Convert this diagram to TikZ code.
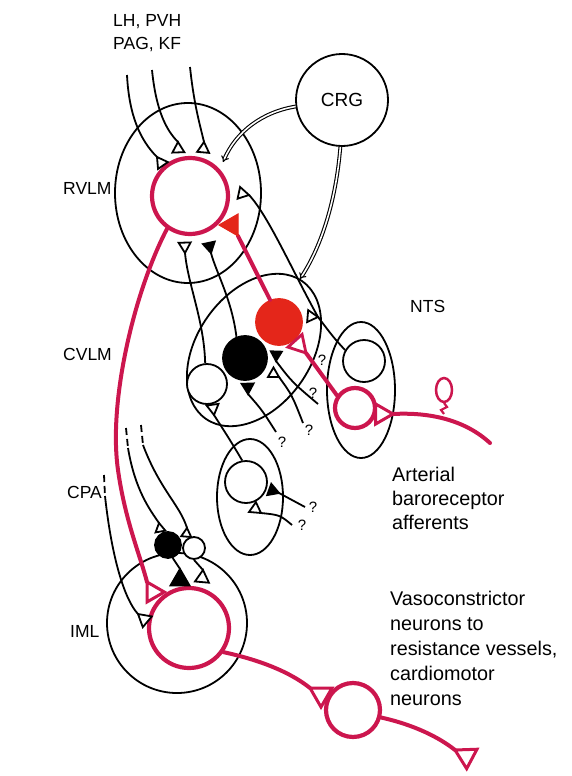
\documentclass[tikz,border=0pt]{standalone}
\usepackage{fontspec}
\setmainfont{Liberation Sans}
\usetikzlibrary{arrows.meta, positioning}

\definecolor{nred}{RGB}{204,22,78}
\definecolor{fred}{RGB}{228,38,26}

\tikzset{
  ax/.style={line width=1.8pt},
  redax/.style={line width=4pt, draw=nred, line cap=round},
  cell/.style={circle, draw, line width=1.8pt, fill=white, inner sep=0pt, minimum size=#1pt},
  redcell/.style={cell=#1, draw=nred, line width=4.2pt},
  dbl/.style={double, double distance=1.6pt, line width=1.1pt, -{Implies[scale=1.3]}},
  lbl/.style={font=\fontsize{17.5}{21}\selectfont, inner sep=0pt},
  txt/.style={font=\fontsize{19.8}{24}\selectfont, inner sep=0pt},
  qm/.style={font=\fontsize{15}{15}\selectfont, inner sep=0pt},
  dashtop/.style={ax, dash pattern=on 7pt off 4pt},
}

% terminal: [style]{apex}{direction}{size}
\newcommand{\bouton}[4][]{%
  \draw[ax, fill=white, #1] (#2) -- ++(#3-30:#4) -- ++(#3+90:#4) -- cycle;}

\begin{document}
\begin{tikzpicture}[x=1pt, y=-1pt]
\useasboundingbox (0,0) rectangle (571,776);

% regions
\draw[ax] (188,193) ellipse [x radius=73, y radius=90];
\draw[ax, rotate around={55:(254,350)}] (254,350) ellipse [x radius=84, y radius=57];
\draw[ax] (361,390) ellipse [x radius=34, y radius=68];
\draw[ax] (250,497) ellipse [x radius=33, y radius=58];
\draw[ax] (177,623) circle [radius=70];

% cells
\node[cell=92, font=\fontsize{19}{22}\selectfont] (crg) at (342,100) {CRG};
\node[redcell=76] (rvlm) at (190,196) {};
\node[cell=46, fill=fred, draw=fred] (cvlmR) at (279,322) {};
\node[cell=44, fill=black] (cvlmB) at (245,358) {};
\node[cell=40] (cvlmW) at (207,384) {};
\node[cell=42] (ntsW) at (364,361) {};
\node[redcell=40] (ntsR) at (355,408) {};
\node[cell=42] (cpaW) at (246,482) {};
\node[redcell=80] (imlR) at (189,628) {};
\node[cell=26, fill=black] (imlB) at (168,545) {};
\node[cell=22] (imlW) at (194,548) {};
\node[redcell=54] (gang) at (353,710) {};

% inputs from above
\draw[ax] (127,75) .. controls (129,115) and (140,140) .. (157,157);
\bouton{157,157}{55}{12}
\draw[ax] (152,70) .. controls (156,110) and (166,130) .. (178,142);
\bouton{178,142}{88}{12}
\draw[ax] (190,67) .. controls (194,105) and (200,125) .. (204,142);
\bouton{204,142}{95}{12}

% CRG
\draw[dbl] (crg.188) .. controls (262,112) and (236,132) .. (223,162);
\draw[dbl] (crg.268) .. controls (336,200) and (322,245) .. (300,279);

% NTS to RVLM, branch on CVLM
\coordinate (br) at (318,317);
\draw[ax] (ntsW.150) .. controls (334,338) .. (br) .. controls (293,272) and (268,215) .. (249,195);
\bouton{249,195}{192}{12}
\bouton{br}{185}{12}

% CVLM to RVLM
\draw[ax] (cvlmW.95) .. controls (204,320) and (188,285) .. (185,253);
\bouton{185,253}{268}{12}
\draw[ax] (cvlmB.112) .. controls (232,300) and (216,272) .. (211,253);
\bouton[fill=black]{211,253}{258}{12}

% unknown inputs in CVLM
\draw[ax] (276,361) .. controls (292,382) .. (318,404);
\bouton[fill=black]{276,361}{272}{11}
\node[qm] (q2) at (313,393) {?};
\draw[ax] (279,377) .. controls (292,395) .. (303,423);
\bouton{279,377}{210}{11}
\node[qm] (q3) at (309,430) {?};
\draw[ax] (248,394) .. controls (262,410) .. (276,432);
\bouton[fill=black]{248,394}{268}{12}
\node[qm] (q4) at (282,442) {?};
\node[qm] (q1) at (322,360) {?};

% CPA
\draw[ax] (cpaW.100) .. controls (230,440) .. (214,415);
\bouton{214,415}{262}{12}
\draw[ax] (279,493) .. controls (292,500) .. (305,507);
\bouton[fill=black]{279,493}{200}{12}
\node[qm] (q5) at (313,507) {?};
\draw[ax] (261,513) .. controls (280,515) .. (292,525);
\bouton{261,513}{215}{12}
\node[qm] (q6) at (302,525) {?};

% IML
\draw[dashtop] (126,428) -- (128,448);
\draw[ax] (128,448) .. controls (135,490) and (150,510) .. (159,523);
\bouton{159,523}{80}{10}
\draw[dashtop] (141,425) -- (143,445);
\draw[ax] (143,445) .. controls (160,490) and (180,505) .. (187,528);
\bouton{187,528}{95}{10}
\draw[dashtop] (104,475) -- (105,496);
\draw[ax] (105,496) .. controls (112,560) and (125,600) .. (138,614);
\bouton{138,614}{40}{14}
\draw[ax] (imlB.290) -- (180,569);
\bouton[fill=black]{180,569}{90}{19}
\draw[ax] (imlW.270) -- (203,570);
\bouton{203,570}{95}{14}

% red pathway
\draw[redax] (rvlm.235) .. controls (135,290) and (108,400) .. (118,470) .. controls (125,520) and (140,555) .. (147,582);
\bouton[draw=nred, line width=3pt]{147,582}{60}{20}
\draw[redax] (cvlmR.112) -- (238,236);
\bouton[draw=fred, fill=fred, line width=1pt]{238,236}{240}{22}
\draw[redax] (ntsR.145) -- (306,353);
\bouton[draw=nred, line width=2.8pt]{306,353}{228}{19}
\draw[redax] (490,443) .. controls (465,420) and (430,412) .. (393,414);
\bouton[draw=nred, line width=3pt]{393,414}{180}{20}
\draw[nred, line width=2.2pt] (444,414) -- (441,410) -- (447,407) -- (444,403);
\draw[nred, line width=2.5pt] (444,390) ellipse [x radius=8, y radius=12];
\draw[redax] (imlR.-35) .. controls (260,660) and (290,672) .. (310,688);
\bouton[draw=nred, line width=3pt]{310,688}{30}{22}
\draw[redax] (gang.-15) .. controls (415,725) and (440,738) .. (455,750);
\bouton[draw=nred, line width=3pt]{455,750}{28}{22}

% labels
\node[lbl, anchor=base west] (src1) at (113,27) {LH, PVH};
\node[lbl, anchor=base west] (src2) at (113,50) {PAG, KF};
\node[lbl, anchor=base west] (lrvlm) at (63,194) {RVLM};
\node[lbl, anchor=base west] (lcvlm) at (63,360) {CVLM};
\node[lbl, anchor=base west] (lcpa) at (67,498) {CPA};
\node[lbl, anchor=base west] (liml) at (70,637) {IML};
\node[lbl, anchor=base west] (lnts) at (410,312) {NTS};
\node[txt, anchor=base west] (aff1) at (392,481) {Arterial};
\node[txt, anchor=base west] (aff2) at (392,505) {baroreceptor};
\node[txt, anchor=base west] (aff3) at (392,529) {afferents};
\node[txt, anchor=base west] (vc1) at (390,605) {Vasoconstrictor};
\node[txt, anchor=base west] (vc2) at (390,630) {neurons to};
\node[txt, anchor=base west] (vc3) at (390,655) {resistance vessels,};
\node[txt, anchor=base west] (vc4) at (390,680) {cardiomotor};
\node[txt, anchor=base west] (vc5) at (390,705) {neurons};
\end{tikzpicture}
\end{document}
